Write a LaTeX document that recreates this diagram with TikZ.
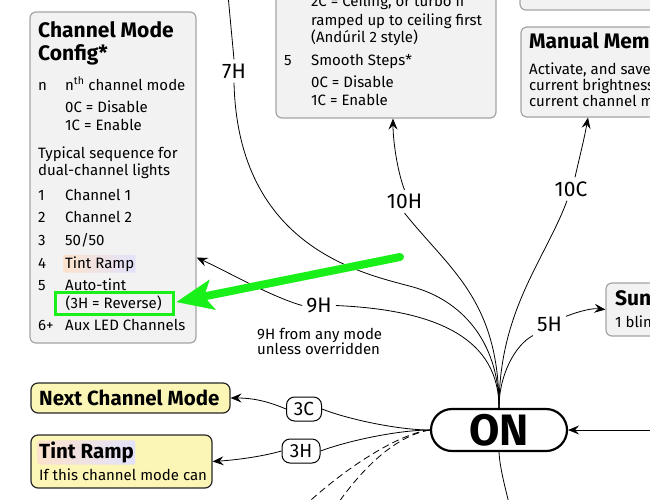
\documentclass[tikz,border=0pt]{standalone}
\usepackage{fontspec}
\setmainfont{Fira Sans}
\usetikzlibrary{arrows.meta,positioning}
\definecolor{BoxGray}{HTML}{F2F2F2}
\definecolor{BoxEdge}{HTML}{A4A4A4}
\definecolor{ActionYellow}{HTML}{FCF6B6}
\definecolor{HighlightGreen}{HTML}{19F019}
\definecolor{TintLeft}{HTML}{FCE2CC}
\definecolor{TintRight}{HTML}{E2E2FC}

\begin{document}
\begin{tikzpicture}[
  x=1pt,y=-1pt,
  font=\fontsize{15}{17}\selectfont,
  infobox/.style={draw=BoxEdge,fill=BoxGray,line width=1.2pt,rounded corners=6pt,inner sep=0pt},
  actionbox/.style={draw=black!85,fill=ActionYellow,line width=1.2pt,rounded corners=7pt,inner sep=0pt},
  entry/.style={anchor=base west,inner sep=0pt},
  boxhead/.style={entry,font=\fontsize{21}{23}\selectfont\bfseries},
  tintmark/.style={left color=TintLeft,right color=TintRight,rounded corners=2pt,inner xsep=1.5pt,inner ysep=1.5pt},
  clicklabel/.style={font=\fontsize{21}{21}\selectfont,inner sep=4pt},
  presspill/.style={draw,fill=white,line width=1pt,rounded corners=8pt,font=\fontsize{19}{19}\selectfont,minimum height=24pt,inner xsep=3pt},
  link/.style={line width=0.8pt},
  arrowlink/.style={link,-{Stealth[length=11pt,width=9pt,inset=4pt]}},
  greenarrow/.style={HighlightGreen,line width=8pt,line cap=round,-{Stealth[length=37pt,width=31pt,inset=9pt,line width=0.5pt]}},
]
  \useasboundingbox (0,0) rectangle (650,499);
  \clip (0,0) rectangle (650,499);

  % boxes
  \node[infobox,minimum width=166pt,minimum height=331pt] (modecfg) at (113,177.5) {};
  \node[infobox,minimum width=220pt,minimum height=178pt] (smooth) at (386,29) {};
  \node[infobox,minimum width=240pt,minimum height=80pt] (topright) at (640,-30) {};
  \node[infobox,minimum width=240pt,minimum height=90pt] (manual) at (641,72) {};
  \node[infobox,minimum width=160pt,minimum height=53pt] (sunset) at (686,309.5) {};
  \node[actionbox,minimum width=199pt,minimum height=30pt] (nextmode) at (130.5,398) {};
  \node[actionbox,minimum width=181pt,minimum height=53pt] (tintramp) at (121.5,461.5) {};
  \node[draw,fill=white,line width=2.2pt,rounded corners=21pt,minimum width=136pt,minimum height=42pt,inner sep=0pt,font=\fontsize{44}{44}\selectfont\bfseries] (on) at (499,430) {ON};

  % channel mode config
  \node[boxhead] (cfgtitle) at (38,37) {Channel Mode};
  \node[boxhead] (cfgtitle2) at (38,60) {Config*};
  \node[entry] (nkey) at (38,90) {n};
  \node[entry] (nval) at (65,90) {n\textsuperscript{th} channel mode};
  \node[entry] (noff) at (65,112) {0C = Disable};
  \node[entry] (non) at (65,130) {1C = Enable};
  \node[entry] (typical) at (38,158) {Typical sequence for};
  \node[entry] (typical2) at (38,175) {dual-channel lights};
  \node[entry] (k1) at (38,200.5) {1};
  \node[entry] (v1) at (65,200.5) {Channel 1};
  \node[entry] (k2) at (38,222.5) {2};
  \node[entry] (v2) at (65,222.5) {Channel 2};
  \node[entry] (k3) at (38,245) {3};
  \node[entry] (v3) at (65,245) {50/50};
  \node[entry] (k4) at (38,268) {4};
  \node[entry,tintmark] (v4) at (63.5,268) {Tint Ramp};
  \node[entry] (k5) at (38,290.5) {5};
  \node[entry] (v5) at (65,290.5) {Auto-tint};
  \node[entry] (v5b) at (65.5,308) {(3H = Reverse)};
  \node[entry] (k6) at (38,330.5) {6+};
  \node[entry] (v6) at (65,330.5) {Aux LED Channels};
  \node[draw=HighlightGreen,line width=3pt,minimum width=118pt,minimum height=22pt,inner sep=0pt] (revbox) at (114,303) {};

  % smooth steps box
  \node[entry] (ceil1) at (311,6) {2C = Ceiling, or turbo if};
  \node[entry] (ceil2) at (311,25.5) {ramped up to ceiling first};
  \node[entry] (ceil3) at (311,42.5) {(Andúril 2 style)};
  \node[entry] (sskey) at (284,65.5) {5};
  \node[entry] (ssval) at (311,65.5) {Smooth Steps*};
  \node[entry] (ssoff) at (311,87.5) {0C = Disable};
  \node[entry] (sson) at (311,105) {1C = Enable};

  % manual memory and sunset, cut by the right edge
  \node[boxhead] (memtitle) at (529,48.5) {Manual Mem};
  \node[entry] (memtext) at (529,74) {Activate, and save};
  \node[entry] (memtext2) at (529,90) {current brightness};
  \node[entry] (memtext3) at (529,106.5) {current channel m};
  \node[boxhead] (suntitle) at (615,305) {Sun};
  \node[entry] (suntext) at (615,327) {1 blin};

  % action boxes
  \node[boxhead,font=\fontsize{20.5}{22}\selectfont\bfseries] (nexttext) at (39,405) {Next Channel Mode};
  \node[boxhead,tintmark,font=\fontsize{20.5}{22}\selectfont\bfseries] (tinttext) at (37.5,458.5) {Tint Ramp};
  \node[entry] (tintnote) at (39,480) {If this channel mode can};

  % click labels
  \node[clicklabel] (l7h) at (234,71) {7H};
  \node[clicklabel] (l10h) at (404.5,201.5) {10H};
  \node[clicklabel] (l10c) at (571,189) {10C};
  \node[clicklabel] (l9h) at (319,305.5) {9H};
  \node[clicklabel] (l5h) at (549.5,324) {5H};
  \node[entry,font=\fontsize{15}{17}\selectfont] (note1) at (257,339) {9H from any mode};
  \node[entry,font=\fontsize{15}{17}\selectfont] (note2) at (257,354) {unless overridden};
  \node[presspill,minimum width=35pt] (p3c) at (304,409) {3C};
  \node[presspill,minimum width=38pt] (p3h) at (301,451) {3H};

  \coordinate (top7) at (228,-5);
  \coordinate (rightin) at (660,430);
  \coordinate (dash1) at (298,512);
  \coordinate (dash2) at (332,512);
  \coordinate (onbelow) at (511,512);
  \coordinate (grntail) at (400,257);

  % links out of ON
  \draw[link] (on.north) .. controls (499,340) and (460,300) .. (413,287)
    .. controls (366,274) and (238,250) .. (l7h.south);
  \draw[link] (l7h.north) -- (top7);
  \draw[link] (on.north) .. controls (499,340) and (440,310) .. (l9h.east);
  \draw[arrowlink] (l9h.west) .. controls (272,297) and (228,272) .. ([yshift=-80pt]modecfg.east);
  \draw[link] (on.north) .. controls (499,300) and (450,270) .. (l10h.south);
  \draw[arrowlink] (l10h.north) .. controls (397,170) and (393,140) .. ([xshift=7pt]smooth.south);
  \draw[link] (on.north) .. controls (499,310) and (545,260) .. ([xshift=-4pt]l10c.south);
  \draw[arrowlink] ([xshift=4pt]l10c.north) .. controls (580,155) and (584,140) .. ([xshift=-53pt]manual.south);
  \draw[link] (on.north) .. controls (499,375) and (515,345) .. (l5h.south west);
  \draw[arrowlink] (l5h.25) .. controls (580,311) and (592,308) .. (sunset.west);

  \draw[link] (on.west) .. controls (400,430) and (350,420) .. (p3c.east);
  \draw[arrowlink] (p3c.west) .. controls (265,400) and (250,398) .. (nextmode.east);
  \draw[link] (on.west) .. controls (400,430) and (350,440) .. (p3h.east);
  \draw[arrowlink] (p3h.west) .. controls (260,457) and (235,460) .. (tintramp.east);
  \draw[link,dash pattern=on 7pt off 4pt] (on.west) .. controls (405,432) and (350,462) .. (dash1);
  \draw[link,dash pattern=on 7pt off 4pt] (on.west) .. controls (405,434) and (370,455) .. (dash2);
  \draw[link] (on.south) .. controls (500,470) and (506,490) .. (onbelow);
  \draw[arrowlink] (rightin) -- (on.east);

  % highlight
  \draw[greenarrow] (grntail) -- ([xshift=2pt,yshift=1pt]revbox.east);
\end{tikzpicture}
\end{document}
